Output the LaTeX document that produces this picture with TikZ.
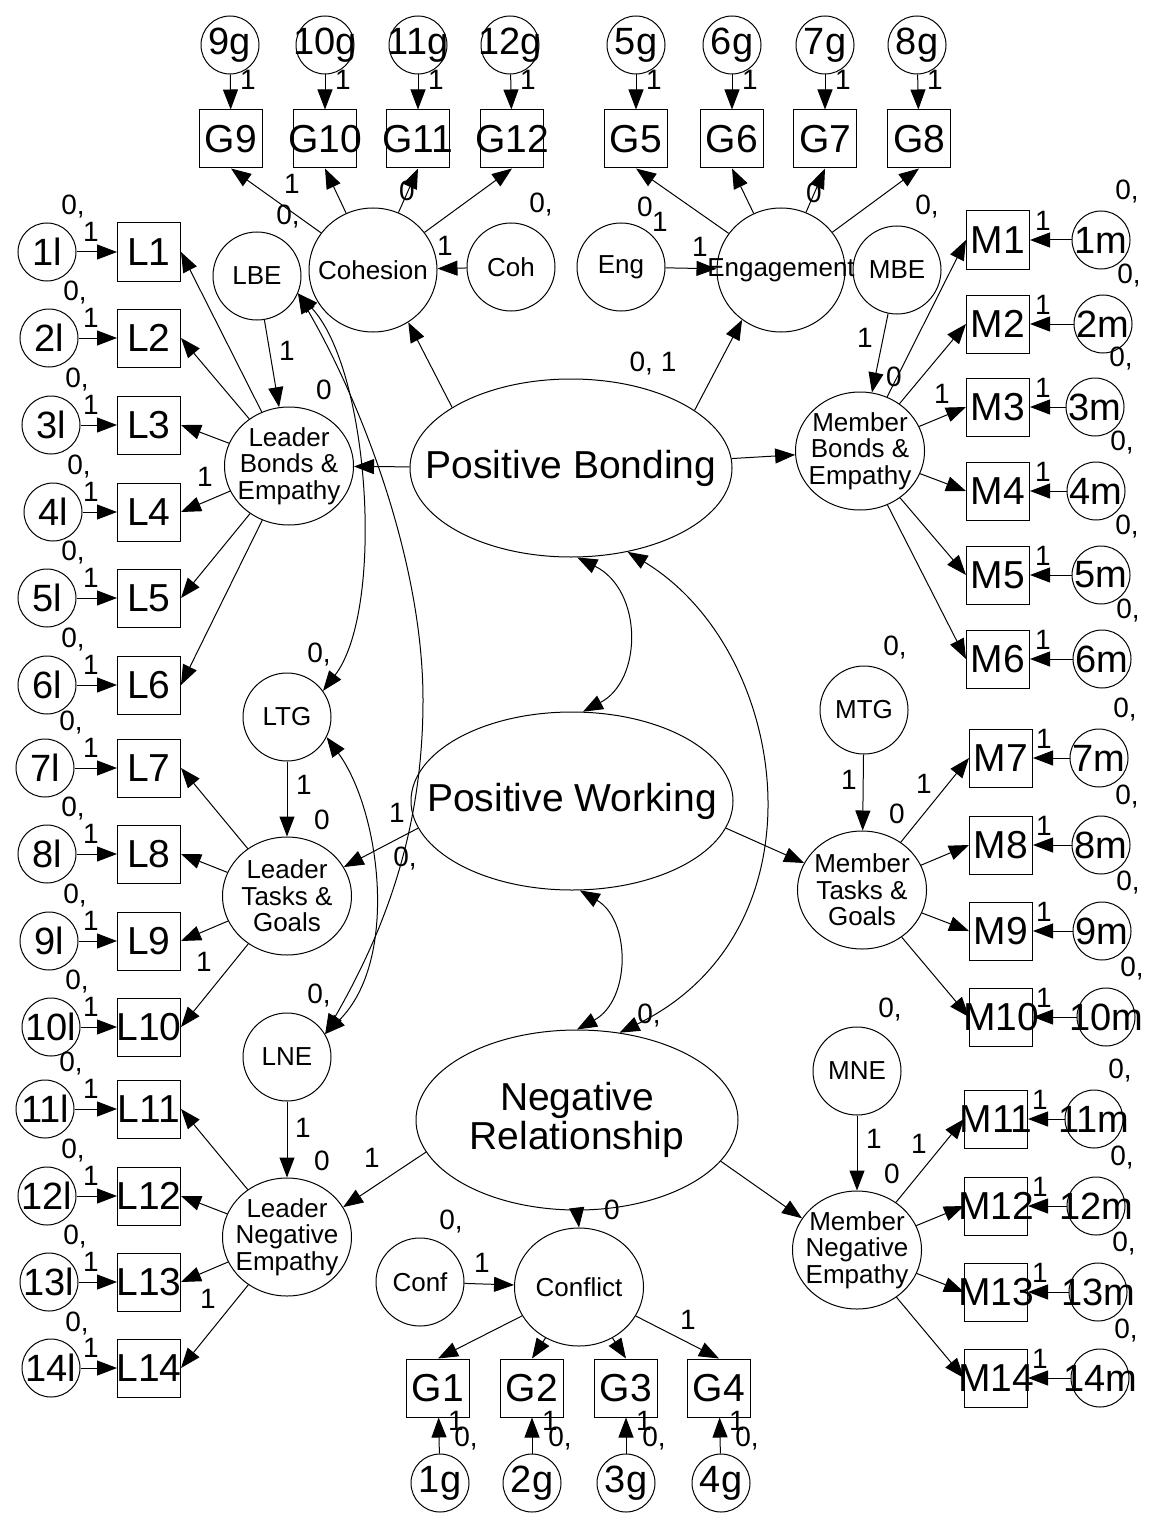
\documentclass[tikz,border=0pt]{standalone}
\usepackage{fontspec}
\setmainfont{Liberation Sans}
\usetikzlibrary{arrows.meta,shapes.geometric,calc}
\newcommand{\FntBig}{\fontsize{39}{39}\selectfont}
\newcommand{\FntObs}{\fontsize{39}{40}\selectfont}
\newcommand{\FntErr}{\fontsize{38}{39}\selectfont}
\newcommand{\FntLat}{\fontsize{26}{26.5}\selectfont}
\newcommand{\FntNum}{\fontsize{28}{29}\selectfont}
\begin{document}
\begin{tikzpicture}[x=1pt,y=-1pt,line width=1pt,
  >={Triangle[length=20pt,width=15pt]},
  obs/.style={draw,rectangle,minimum width=63pt,minimum height=58pt,inner sep=0pt},
  err/.style={draw,circle,minimum size=58pt,inner sep=0pt},
  lat/.style={draw,circle,minimum size=88pt,inner sep=0pt},
  fac/.style={draw,ellipse,minimum width=129pt,minimum height=118pt,inner sep=0pt},
  bigf/.style={draw,ellipse,minimum width=322pt,minimum height=178pt,inner sep=0pt},
  num/.style={font=\FntNum,inner sep=0pt},
  lobs/.style={font=\FntObs,inner sep=0pt},
  lerr/.style={font=\FntErr,inner sep=0pt},
  llat/.style={font=\FntLat,inner sep=0pt,align=center},
  lbig/.style={font=\FntBig,inner sep=0pt,align=center}]
\path[fill=white,use as bounding box] (0,0) rectangle (1152,1522);

% central factors
\node[bigf,label={[lbig]center:Positive Bonding}] (PB) at (571,468) {};
\node[bigf,label={[lbig]center:Positive Working}] (PW) at (572,801) {};
\node[bigf,minimum height=180pt,label={[lbig]center:Negative\\Relationship}] (NR) at (577,1120) {};

% second order
\node[fac,minimum height=124pt,minimum width=128pt,label={[llat]center:Cohesion}] (Cohesion) at (373,270) {};
\node[fac,minimum height=124pt,minimum width=128pt,label={[llat]center:Engagement}] (Engagement) at (781,270) {};
\node[fac,label={[llat]center:Conflict}] (Conflict) at (579,1287) {};
\node[lat,label={[llat]center:Coh}] (Coh) at (511,267) {};
\node[lat,label={[llat]center:Eng}] (Eng) at (621,267) {};
\node[lat,label={[llat]center:Conf}] (Conf) at (420,1282) {};

\node[fac,label={[llat]center:Leader\\Bonds \&\\Empathy}] (LBEf) at (289,466) {};
\node[fac,label={[llat]center:Leader\\Tasks \&\\Goals}] (LTGf) at (287,896) {};
\node[fac,label={[llat]center:Leader\\Negative\\Empathy}] (LNEf) at (287,1237) {};
\node[fac,label={[llat]center:Member\\Bonds \&\\Empathy}] (MBEf) at (860,451) {};
\node[fac,label={[llat]center:Member\\Tasks \&\\Goals}] (MTGf) at (862,890) {};
\node[fac,label={[llat]center:Member\\Negative\\Empathy}] (MNEf) at (857,1250) {};

\node[lat,label={[llat]center:LBE}] (LBE) at (257,276) {};
\node[lat,label={[llat]center:LTG}] (LTG) at (287,717) {};
\node[lat,label={[llat]center:LNE}] (LNE) at (287,1057) {};
\node[lat,label={[llat]center:MBE}] (MBE) at (897,270) {};
\node[lat,label={[llat]center:MTG}] (MTG) at (864,710) {};
\node[lat,label={[llat]center:MNE}] (MNE) at (857,1071) {};

% top indicators
\foreach \ii/\xx/\ee in {9/231/230,10/325/325,11/418/418,12/512/510,5/636/636,6/732/732,7/825/825,8/919/917} {
  \node[obs,label={[lobs]center:G\ii}] (G\ii) at (\xx,139) {};
  \node[err,label={[lerr]center:\ii g}] (eg\ii) at (\ee,45) {};
  \draw[->] (eg\ii) -- (G\ii);
  \node[num] (og\ii) at (\ee+18,80) {1};
}
\foreach \ii in {9,...,12} \draw[->] (Cohesion) -- (G\ii.south);
\foreach \ii in {5,...,8} \draw[->] (Engagement) -- (G\ii.south);

% bottom indicators
\foreach \ii/\xx/\ee in {1/438/440,2/532/532,3/626/626,4/719/721} {
  \node[obs,label={[lobs]center:G\ii}] (G\ii) at (\xx,1388) {};
  \node[err,label={[lerr]center:\ii g}] (eg\ii) at (\ee,1483) {};
  \draw[->] (eg\ii) -- (G\ii);
  \draw[->] (Conflict) -- (G\ii.north);
  \node[num] (og\ii) at (\xx+18,1421) {1};
  \node[num] (zg\ii) at (\xx+28,1438) {0,};
}

% left indicators
\foreach \ii/\yy/\ee in {1/252/47,2/338/49,3/425/51,4/512/53,5/598/47,6/685/47,7/768/45,8/854/47,9/941/49,10/1027/51,11/1109/45,12/1196/47,13/1282/49,14/1368/51} {
  \node[obs,label={[lobs]center:L\ii}] (L\ii) at (149,\yy) {};
  \node[err,label={[lerr]center:\ii l}] (el\ii) at (\ee,\yy) {};
  \draw[->] (el\ii) -- (L\ii);
  \node[num] (zl\ii) at (\ee+26,\yy-45) {0,};
  \node[num] (ol\ii) at (91,\yy-20) {1};
}
\foreach \ii in {1,...,6} \draw[->] (LBEf) -- (L\ii.east);
\foreach \ii in {7,...,10} \draw[->] (LTGf) -- (L\ii.east);
\foreach \ii in {11,...,14} \draw[->] (LNEf) -- (L\ii.east);

% right indicators
\foreach \ii/\yy/\xx/\ee/\oo in {1/240/998/1101/1043,2/324/998/1103/1043,3/407/998/1095/1043,4/491/998/1096/1043,5/575/998/1101/1043,6/659/998/1102/1043,7/758/1001/1099/1044,8/845/1001/1101/1044,9/931/1001/1102/1044,10/1017/1001/1106/1044,11/1119/996/1094/1040,12/1206/996/1096/1040,13/1292/996/1098/1040,14/1378/996/1100/1040} {
  \node[obs,label={[lobs]center:M\ii}] (M\ii) at (\xx,\yy) {};
  \node[err,label={[lerr]center:\ii m}] (em\ii) at (\ee,\yy) {};
  \draw[->] (em\ii) -- (M\ii);
  \node[num] (zm\ii) at (\ee+26,\yy-48) {0,};
  \node[num] (om\ii) at (\oo,\yy-19) {1};
}
\foreach \ii in {1,...,6} \draw[->] (MBEf) -- (M\ii.west);
\foreach \ii in {7,...,10} \draw[->] (MTGf) -- (M\ii.west);
\foreach \ii in {11,...,14} \draw[->] (MNEf) -- (M\ii.west);

% structural paths
\draw[->] (Coh) -- (Cohesion);
\draw[->] (Eng) -- (Engagement);
\draw[->] (Conf) -- (Conflict);
\draw[->] (PB.153) -- (Cohesion.-56);
\draw[->] (PB.25) -- (Engagement.232);
\draw[->] (PB) -- (LBEf);
\draw[->] (PB) -- (MBEf);
\draw[->] (PW.190) -- (LTGf.27);
\draw[->] (PW.350) -- (MTGf.155);
\draw[->] (NR.192) -- (LNEf.28);
\draw[->] (NR.344) -- (MNEf.150);
\draw[->] (NR.south) -- (Conflict.north);
\draw[->] (LBE) -- (LBEf);
\draw[->] (LTG) -- (LTGf);
\draw[->] (LNE) -- (LNEf);
\draw[->] (MBE) -- (MBEf);
\draw[->] (MTG) -- (MTGf);
\draw[->] (MNE) -- (MNEf);

% covariances
\draw[<->] (PB.-86) .. controls (643,590) and (643,680) .. (PW.83);
\draw[<->] (PW.-85) .. controls (631,920) and (631,1000) .. (NR.90);
\draw[<->] (PB.-56) .. controls (790,650) and (830,930) .. (NR.64);
\draw[<->] (LBE.-23) .. controls (370,370) and (385,610) .. (LTG.36);
\draw[<->] (LBE.-23) .. controls (360,400) and (423,560) .. (423,700) .. controls (423,830) and (385,930) .. (LNE.31);
\draw[<->] (LTG.-27) .. controls (380,810) and (400,960) .. (LNE.31);

% parameter labels
\node[num] (n1) at (292,184) {1};
\node[num] (n2) at (288,217) {0,};
\node[num] (n3) at (407,191) {0};
\node[num] (n4) at (541,205) {0,};
\node[num] (n5) at (445,246) {1};
\node[num] (n6) at (645,207) {0};
\node[num] (n7) at (660,222) {1};
\node[num] (n8) at (700,247) {1};
\node[num] (n9) at (814,193) {0};
\node[num] (n10) at (927,207) {0,};
\node[num] (n11) at (653,364) {0, 1};
\node[num] (n12) at (287,351) {1};
\node[num] (n13) at (324,390) {0};
\node[num] (n14) at (205,477) {1};
\node[num] (n15) at (319,655) {0,};
\node[num] (n16) at (304,785) {1};
\node[num] (n17) at (322,820) {0};
\node[num] (n18) at (397,813) {1};
\node[num] (n19) at (405,859) {0,};
\node[num] (n20) at (204,962) {1};
\node[num] (n21) at (319,996) {0,};
\node[num] (n22) at (303,1128) {1};
\node[num] (n23) at (322,1161) {0};
\node[num] (n24) at (372,1158) {1};
\node[num] (n25) at (208,1299) {1};
\node[num] (n26) at (865,338) {1};
\node[num] (n27) at (894,377) {0};
\node[num] (n28) at (942,394) {1};
\node[num] (n29) at (895,648) {0,};
\node[num] (n30) at (849,780) {1};
\node[num] (n31) at (897,814) {0};
\node[num] (n32) at (924,784) {1};
\node[num] (n33) at (890,1010) {0,};
\node[num] (n34) at (874,1139) {1};
\node[num] (n35) at (892,1174) {0};
\node[num] (n36) at (919,1144) {1};
\node[num] (n37) at (612,1210) {0};
\node[num] (n38) at (649,1016) {0,};
\node[num] (n39) at (451,1222) {0,};
\node[num] (n40) at (482,1263) {1};
\node[num] (n41) at (688,1320) {1};
\end{tikzpicture}
\end{document}
